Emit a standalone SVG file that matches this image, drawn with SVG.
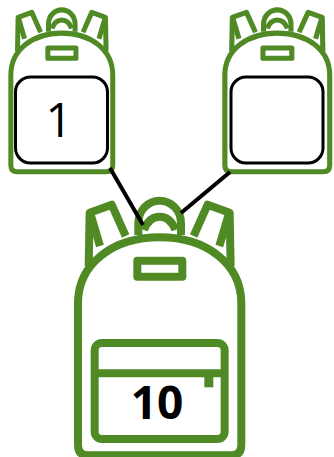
<svg xmlns="http://www.w3.org/2000/svg" width="334" height="457" viewBox="0 0 334 457">
<style>
.g{fill:none;stroke:#4f8a25;stroke-width:24;stroke-linejoin:round}
.w{fill:#fff}
.box{fill:#fff;stroke:#000;stroke-width:3}
.c{stroke:#000;stroke-width:4;fill:none}
</style>
<defs>
<g id="bag">
<path class="g" d="M86 258L89 98L155 74L197 168"/>
<path class="g" d="M512 258L509 98L443 74L401 168"/>
<path class="g" d="M92 104L120 198M506 104L478 198"/>
<path class="g" d="M235 165V130C235 90 265 62 299 62C333 62 363 90 363 130V165"/>
<path class="g" d="M252 150C262 122 280 110 299 110C318 110 336 122 346 150"/>
<path class="g w" d="M54 370C54 250 160 172 299 172C438 172 544 250 544 370V795Q544 826 514 826H84Q54 826 54 795Z"/>
<rect class="g" x="232" y="242" width="135" height="48"/>
</g>
<g id="pocket">
<rect class="g" x="104" y="489" width="390" height="288" rx="22"/>
<path class="g" d="M104 580H494"/>
<rect x="433" y="585" width="27" height="37" fill="#4f8a25"/>
</g>
</defs>
<g id="bag-left">
<use href="#bag" transform="translate(-0.4 -3.3) scale(.208 .212)"/>
<rect class="box" x="15.5" y="77" width="92" height="86" rx="15"/>
<text x="59" y="137" font-family="'Open Sans',sans-serif" font-weight="400" font-size="47" text-anchor="middle">1</text>
</g>
<g id="bag-right">
<use href="#bag" transform="translate(213.3 -3.3) scale(.214 .212)"/>
<rect class="box" x="231" y="77" width="92" height="86" rx="15"/>
</g>
<g id="bag-total">
<g transform="translate(60 180) scale(.3333)">
<use href="#bag"/>
<use href="#pocket"/>
</g>
<text x="157" y="419" font-family="'Open Sans',sans-serif" font-weight="700" font-size="46" text-anchor="middle">10</text>
</g>
<g id="connectors">
<path class="c" d="M110 168L143 225"/>
<path class="c" d="M181 213L230 172"/>
</g>
</svg>
